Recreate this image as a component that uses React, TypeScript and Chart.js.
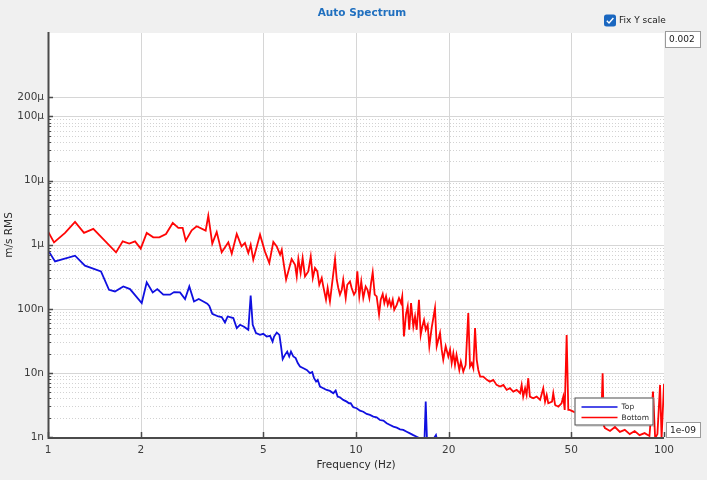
import { useEffect, useRef } from "react";
import { Chart, registerables } from "chart.js";

Chart.register(...registerables);

// Frequencies in Hz, amplitudes in nm/s RMS
const topFreq = [
  1.0, 1.054, 1.224, 1.318, 1.486, 1.578, 1.65, 1.756, 1.846, 2.015, 2.092, 2.188, 2.264, 2.368, 2.49,
  2.566, 2.683, 2.786, 2.876, 2.979, 3.086, 3.194, 3.29, 3.34, 3.415, 3.572, 3.664, 3.755, 3.831, 3.996,
  4.1, 4.203, 4.33, 4.47, 4.55, 4.62, 4.735, 4.88, 5.0, 5.13, 5.26, 5.36, 5.42, 5.53, 5.64, 5.71, 5.78,
  5.88, 5.98, 6.07, 6.15, 6.26, 6.37, 6.47, 6.58, 6.75, 6.92, 7.09, 7.21, 7.31, 7.42, 7.51, 7.64, 7.83,
  8.03, 8.23, 8.44, 8.59, 8.72, 8.87, 9.09, 9.33, 9.49, 9.61, 9.8, 10.05, 10.3, 10.56, 10.83, 11.1, 11.38,
  11.67, 11.96, 12.27, 12.58, 12.9, 13.22, 13.56, 13.9, 14.24, 14.61, 14.97, 15.35, 15.74, 16.14, 16.5,
  16.69, 16.84, 17.0, 17.6, 18.18, 18.4, 19.5,
];
const topNano = [
  820, 548, 673, 470, 383, 198, 186, 223, 203, 123, 258, 180, 203, 166, 166,
  182, 180, 142, 223, 130, 142, 130, 120, 111, 83.5, 75.8, 74.1, 61.1, 75.8, 71.6,
  49.9, 56.2, 52.3, 47, 161, 56.2, 41.7, 39.2, 40.7, 36.9, 37.9, 30.8, 36.9, 42.6, 39.2, 25.8, 16.4,
  19.1, 21.5, 18, 21.5, 18, 17, 14.2, 12.6, 11.8, 11.1, 9.9, 10.3, 8.26, 7.31, 7.78, 6.11, 5.77,
  5.42, 5.23, 4.82, 5.29, 4.26, 4.17, 3.79, 3.56, 3.36, 3.36, 2.91, 2.81, 2.58, 2.48, 2.29, 2.21, 2.08,
  2.03, 1.84, 1.8, 1.64, 1.54, 1.45, 1.4, 1.32, 1.29, 1.21, 1.14, 1.07, 1.01, 0.95, 0.9,
  0.93, 3.56, 0.9, 0.84, 1.07, 0.84, 0.75,
];

const bottomFreq = [
  1.0, 1.046, 1.136, 1.224, 1.309, 1.403, 1.663, 1.748, 1.836, 1.917, 2.0, 2.092, 2.197, 2.298, 2.416,
  2.541, 2.649, 2.737, 2.8, 2.928, 3.04, 3.25, 3.315, 3.415, 3.53, 3.664, 3.85, 3.95, 4.1, 4.25, 4.36,
  4.47, 4.55, 4.64, 4.88, 5.06, 5.23, 5.39, 5.53, 5.67, 5.74, 5.81, 5.93, 6.07, 6.18, 6.34, 6.42, 6.5,
  6.61, 6.71, 6.83, 7.0, 7.13, 7.24, 7.36, 7.49, 7.6, 7.74, 7.83, 7.99, 8.09, 8.23, 8.38, 8.55, 8.66,
  8.76, 8.87, 8.99, 9.09, 9.26, 9.37, 9.56, 9.68, 9.85, 9.98, 10.1, 10.25, 10.4, 10.56, 10.75, 10.9,
  11.05, 11.19, 11.33, 11.5, 11.67, 11.88, 12.03, 12.21, 12.36, 12.52, 12.68, 12.83, 12.99, 13.16,
  13.31, 13.56, 13.79, 14.0, 14.13, 14.31, 14.53, 14.72, 14.89, 15.09, 15.35, 15.55, 15.74, 16.01,
  16.22, 16.42, 16.63, 16.84, 17.09, 17.3, 17.6, 18.05, 18.28, 18.74, 18.98, 19.2, 19.55, 19.94, 20.2,
  20.45, 20.7, 20.96, 21.2, 21.65, 21.9, 22.3, 22.7, 23.15, 23.45, 23.75, 24.04, 24.35, 24.66, 24.95,
  25.3, 25.9, 26.6, 27.2, 27.9, 28.6, 29.35, 30.1, 30.85, 31.6, 32.4, 33.25, 34.1, 34.5, 34.9, 35.4,
  35.8, 36.25, 36.7, 37.6, 38.6, 39.6, 40.55, 41.1, 41.6, 42.1, 43.3, 43.7, 44.3, 45.4, 46.5, 47.1,
  47.6, 48.3, 48.9, 49.4, 50.8, 52.5, 54.5, 56.5, 58.5, 60.5, 62.5, 63.2, 63.8, 64.3, 66.8, 69.3, 71.9,
  74.6, 77.4, 80.3, 83.3, 86.5, 89.7, 92.1, 93.6, 95.2, 97.1, 98.2, 100,
];
const bottomNano = [
  1610, 1086, 1523, 2264, 1523, 1759, 758, 1126, 1037, 1126, 866, 1523, 1300, 1300, 1469,
  2183, 1823, 1823, 1155, 1672, 1932, 1655, 2838, 1037, 1579, 758, 1086, 723, 1469, 940, 1064,
  742, 1000, 583, 1433, 786, 518, 1102, 940, 698, 835, 548, 284, 432, 598, 487, 320, 598,
  361, 620, 320, 383, 656, 302, 432, 383, 237, 302, 223, 138, 211, 130, 267, 598, 284,
  211, 166, 198, 284, 147, 237, 267, 211, 166, 186, 383, 156, 267, 147, 223, 198,
  147, 252, 369, 166, 156, 81, 138, 170, 123, 156, 115, 138, 109, 138,
  96, 115, 147, 123, 156, 37, 81, 109, 47, 123, 53, 76, 47, 138,
  39, 53, 67, 47, 56, 26, 50, 103, 26, 42, 23, 16, 26, 18, 23,
  14.2, 20.3, 13.3, 19.1, 11.1, 15, 10.5, 13.3, 86, 12.6, 14.2, 11.8, 50, 16, 11.1,
  8.75, 8.75, 7.78, 7.31, 7.78, 6.49, 6.11, 6.49, 5.42, 5.77, 5.1, 5.42, 4.82, 6.49, 4.26, 5.77,
  4.53, 8.26, 4.26, 4.02, 4.26, 3.79, 5.77, 3.56, 4.53, 3.36, 3.56, 4.82, 3.16, 2.97, 3.36, 4.26,
  2.64, 39, 2.64, 2.64, 2.49, 2.3, 2.1, 1.95, 1.8, 1.7, 1.6, 9.9, 1.5, 1.38, 1.24, 1.43, 1.2,
  1.29, 1.11, 1.24, 1.07, 1.15, 1.04, 5.1, 0.96, 1.11, 6.49, 0.95, 6.7,
];

const xTickValues = [1, 2, 5, 10, 20, 50, 100];
const xTickLabels = ["1", "2", "5", "10", "20", "50", "100"];
const yTickValues = [1e-9, 1e-8, 1e-7, 1e-6, 1e-5, 1e-4, 2e-4];
const yTickLabels = ["1n", "10n", "100n", "1μ", "10μ", "100μ", "200μ"];
const yMinorDecades = [1e-9, 1e-8, 1e-7, 1e-6, 1e-5];
const yMinorSteps = [2, 3, 4, 5, 6, 7, 8, 9];

const xMin = 1;
const xMax = 100;
const yMin = 1e-9;
const yMax = 0.002;
const yMaxText = "0.002";
const yMinText = "1e-09";
const chartTitle = "Auto Spectrum";
const checkboxText = "Fix Y scale";

const FONT = '"DejaVu Sans", sans-serif';

const spectrumFrame = {
  id: "spectrumFrame",
  beforeDraw(chart: any) {
    const { ctx, chartArea: a, scales } = chart;
    const xs = scales.x;
    const ys = scales.y;
    ctx.save();
    ctx.fillStyle = "#f0f0f0";
    ctx.fillRect(0, 0, chart.width, chart.height);
    ctx.fillStyle = "#ffffff";
    ctx.fillRect(a.left, a.top, a.right - a.left, a.bottom - a.top);

    // dotted minor grid
    ctx.strokeStyle = "#d2d2d2";
    ctx.lineWidth = 1;
    ctx.setLineDash([1, 2]);
    yMinorDecades.forEach((d) => {
      yMinorSteps.forEach((m) => {
        const y = Math.round(ys.getPixelForValue(d * m)) + 0.5;
        ctx.beginPath();
        ctx.moveTo(a.left, y);
        ctx.lineTo(a.right, y);
        ctx.stroke();
      });
    });
    ctx.setLineDash([]);

    // solid major grid
    ctx.strokeStyle = "#d6d6d6";
    yTickValues.forEach((v) => {
      if (v <= yMin) return;
      const y = Math.round(ys.getPixelForValue(v)) + 0.5;
      ctx.beginPath();
      ctx.moveTo(a.left, y);
      ctx.lineTo(a.right, y);
      ctx.stroke();
    });
    xTickValues.forEach((v) => {
      if (v <= xMin || v >= xMax) return;
      const x = Math.round(xs.getPixelForValue(v)) + 0.5;
      ctx.beginPath();
      ctx.moveTo(x, a.top);
      ctx.lineTo(x, a.bottom);
      ctx.stroke();
    });
    ctx.restore();
  },
  afterDatasetsDraw(chart: any) {
    const { ctx, chartArea: a, scales } = chart;
    const xs = scales.x;
    const ys = scales.y;
    ctx.save();
    ctx.strokeStyle = "#4a4a4a";
    ctx.lineWidth = 1.5;
    // inward tick marks
    yTickValues.forEach((v) => {
      const y = Math.round(ys.getPixelForValue(v)) + 0.5;
      ctx.beginPath();
      ctx.moveTo(a.left, y);
      ctx.lineTo(a.left + 5, y);
      ctx.stroke();
    });
    ctx.lineWidth = 1;
    yMinorDecades.forEach((d) => {
      yMinorSteps.forEach((m) => {
        const y = Math.round(ys.getPixelForValue(d * m)) + 0.5;
        ctx.beginPath();
        ctx.moveTo(a.left, y);
        ctx.lineTo(a.left + 3, y);
        ctx.stroke();
      });
    });
    ctx.lineWidth = 1.5;
    xTickValues.forEach((v) => {
      const x = Math.round(xs.getPixelForValue(v)) + 0.5;
      ctx.beginPath();
      ctx.moveTo(x, a.bottom);
      ctx.lineTo(x, a.bottom - 5);
      ctx.stroke();
    });
    // axis lines
    ctx.lineWidth = 2;
    ctx.beginPath();
    ctx.moveTo(a.left + 0.5, a.top - 1);
    ctx.lineTo(a.left + 0.5, a.bottom + 1);
    ctx.lineTo(a.right, a.bottom + 1);
    ctx.stroke();
    ctx.restore();
  },
  afterDraw(chart: any) {
    const { ctx, chartArea: a } = chart;
    ctx.save();

    // title
    ctx.fillStyle = "#1f6fbf";
    ctx.font = `bold 10.5px ${FONT}`;
    ctx.textAlign = "center";
    ctx.textBaseline = "middle";
    ctx.fillText(chartTitle, 362, 13);

    // checkbox
    ctx.fillStyle = "#1a67c0";
    ctx.beginPath();
    ctx.roundRect(604, 14.5, 12, 12, 2.5);
    ctx.fill();
    ctx.strokeStyle = "#ffffff";
    ctx.lineWidth = 1.4;
    ctx.beginPath();
    ctx.moveTo(606.8, 20.8);
    ctx.lineTo(609, 23);
    ctx.lineTo(613.4, 18);
    ctx.stroke();
    ctx.fillStyle = "#1a1a1a";
    ctx.font = `9px ${FONT}`;
    ctx.textAlign = "left";
    ctx.fillText(checkboxText, 619, 21);

    // y range boxes
    const box = (x: number, y: number, w: number, h: number, text: string) => {
      ctx.fillStyle = "#ffffff";
      ctx.fillRect(x, y, w, h);
      ctx.strokeStyle = "#9a9a9a";
      ctx.lineWidth = 1;
      ctx.strokeRect(x + 0.5, y + 0.5, w - 1, h - 1);
      ctx.fillStyle = "#1a1a1a";
      ctx.font = `9px ${FONT}`;
      ctx.textAlign = "left";
      ctx.fillText(text, x + 4, y + h / 2 + 0.5);
    };
    box(665, 31, 36, 17, yMaxText);
    box(666, 422, 35, 16, yMinText);

    // legend in the lower right of the plot
    const lw = 79;
    const lh = 28;
    const lx = a.right - 10.5 - lw;
    const ly = a.bottom - 11.5 - lh;
    ctx.fillStyle = "rgba(0,0,0,0.12)";
    ctx.fillRect(lx + 1.5, ly + 1.5, lw, lh);
    ctx.fillStyle = "#ffffff";
    ctx.fillRect(lx, ly, lw, lh);
    ctx.strokeStyle = "#4d4d4d";
    ctx.lineWidth = 1;
    ctx.strokeRect(lx + 0.5, ly + 0.5, lw - 1, lh - 1);
    ctx.font = `7.5px ${FONT}`;
    ctx.textAlign = "left";
    chart.data.datasets.forEach((ds: any, i: number) => {
      const y = ly + 9.5 + i * 10.5;
      ctx.strokeStyle = ds.borderColor;
      ctx.lineWidth = 1.5;
      ctx.beginPath();
      ctx.moveTo(lx + 7, y);
      ctx.lineTo(lx + 43, y);
      ctx.stroke();
      ctx.fillStyle = "#2a2a2a";
      ctx.fillText(ds.label, lx + 47, y + 0.5);
    });
    ctx.restore();
  },
};

export default function App() {
  const canvasRef = useRef<HTMLCanvasElement>(null);
  const chartRef = useRef<Chart | null>(null);

  useEffect(() => {
    if (!canvasRef.current) return;
    if (chartRef.current) chartRef.current.destroy();

    const tickFont = { family: FONT, size: 10.5 };

    chartRef.current = new Chart(canvasRef.current, {
      type: "line",
      data: {
        datasets: [
          {
            label: "Top",
            data: topFreq.map((f, i) => ({ x: f, y: topNano[i] * 1e-9 })),
            borderColor: "#1010e0",
            borderWidth: 1.8,
            pointRadius: 0,
            tension: 0,
          },
          {
            label: "Bottom",
            data: bottomFreq.map((f, i) => ({ x: f, y: bottomNano[i] * 1e-9 })),
            borderColor: "#ff0505",
            borderWidth: 1.8,
            pointRadius: 0,
            tension: 0,
          },
        ],
      },
      options: {
        responsive: false,
        animation: false,
        layout: { padding: { top: 33, right: 43, bottom: 0, left: 0 } },
        plugins: {
          legend: { display: false },
          title: { display: false },
          tooltip: { enabled: false },
        },
        scales: {
          x: {
            type: "logarithmic",
            min: xMin,
            max: xMax,
            grid: { display: false, drawTicks: false },
            border: { display: false },
            afterBuildTicks: (axis: any) => {
              axis.ticks = xTickValues.map((v) => ({ value: v }));
            },
            afterFit: (axis: any) => {
              axis.height = 43;
            },
            ticks: {
              autoSkip: false,
              maxRotation: 0,
              padding: 7,
              color: "#3c3c3c",
              font: tickFont,
              callback: (_v: any, i: number) => xTickLabels[i],
            },
            title: {
              display: true,
              text: "Frequency (Hz)",
              color: "#2a2a2a",
              font: tickFont,
              padding: { top: 0, bottom: 8 },
            },
          },
          y: {
            type: "logarithmic",
            min: yMin,
            max: yMax,
            grid: { display: false, drawTicks: false },
            border: { display: false },
            afterBuildTicks: (axis: any) => {
              axis.ticks = yTickValues.map((v) => ({ value: v }));
            },
            afterFit: (axis: any) => {
              axis.width = 48;
            },
            ticks: {
              autoSkip: false,
              padding: 4,
              color: "#3c3c3c",
              font: tickFont,
              callback: (_v: any, i: number) => yTickLabels[i],
            },
            title: {
              display: true,
              text: "m/s RMS",
              color: "#2a2a2a",
              font: tickFont,
              padding: { top: 3, bottom: 0 },
            },
          },
        },
      },
      plugins: [spectrumFrame],
    });

    return () => {
      if (chartRef.current) {
        chartRef.current.destroy();
        chartRef.current = null;
      }
    };
  }, []);

  return (
    <div style={{ position: "fixed", left: 0, top: 0, width: 707, height: 480, background: "#f0f0f0" }}>
      <canvas ref={canvasRef} width={707} height={480} style={{ width: 707, height: 480 }}></canvas>
    </div>
  );
}
